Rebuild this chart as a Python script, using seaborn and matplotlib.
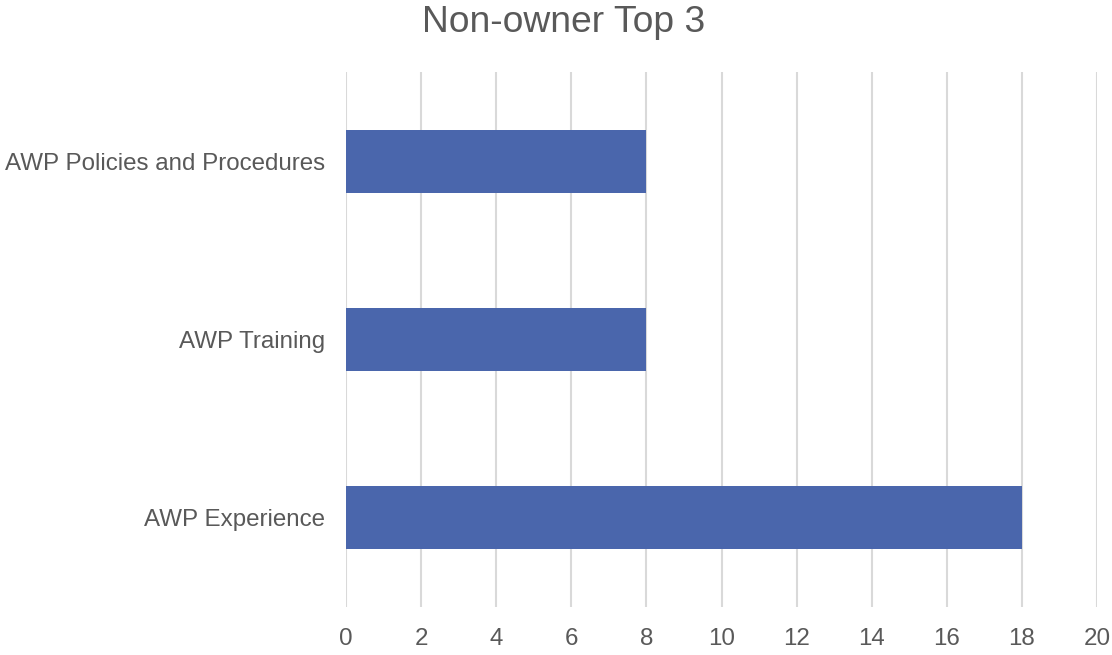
import pandas as pd
import seaborn as sns
import matplotlib.pyplot as plt

# chart data
categories = ['AWP Policies and Procedures', 'AWP Training', 'AWP Experience']
counts = [8, 8, 18]
x_ticks = [0, 2, 4, 6, 8, 10, 12, 14, 16, 18, 20]

df = pd.DataFrame({'Item': categories, 'Count': counts})

sns.set_style('white')
plt.rcParams['font.family'] = ['Liberation Sans', 'DejaVu Sans']

fig = plt.figure(figsize=(11.12, 6.55), dpi=100)
ax = fig.add_axes([0.3112, 0.0733, 0.6753, 0.8167])

sns.barplot(data=df, x='Count', y='Item', color='#4a66ac', width=0.355,
            saturation=1, linewidth=0, ax=ax, zorder=3)

ax.set_xlim(0, 20)
ax.set_ylim(2.5, -0.5)
ax.set_xticks(x_ticks)
ax.xaxis.grid(True, color='#d9d9d9', linewidth=1.5, zorder=0)
ax.yaxis.grid(False)
for s in ax.spines.values():
    s.set_visible(False)
ax.tick_params(axis='both', length=0, labelsize=17.4, labelcolor='#595959')
ax.tick_params(axis='y', pad=15)
ax.tick_params(axis='x', pad=15)
ax.set_xlabel('')
ax.set_ylabel('')

fig.text(0.507, 0.966, 'Non-owner Top 3', ha='center', va='center',
         fontsize=26.8, color='#595959')

fig.savefig('out.png', dpi=100)
